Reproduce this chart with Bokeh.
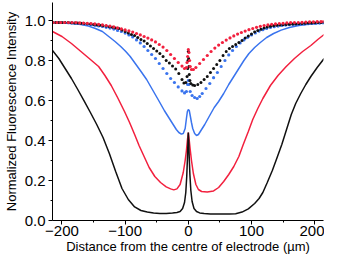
from bokeh.plotting import figure
from bokeh.models import Range1d, FixedTicker, NumeralTickFormatter
from bokeh.embed import file_html
from bokeh.resources import INLINE

# ---- axis ticks ----
x_major = [-200, -100, 0, 100, 200]
x_minor = [-150, -50, 50, 150]
y_major = [0.0, 0.2, 0.4, 0.6, 0.8, 1.0]
y_minor = [0.1, 0.3, 0.5, 0.7, 0.9]

# ---- solid black ----
black_x = [-215, -205, -195, -185, -175, -165, -155, -145, -135, -125, -115, -105, -95, -85, -75, -65, -55, -45, -35, -25, -18, -13, -9, -6, -4, -2.5, -1.5, -0.7, 0, 0.7, 1.5, 2.5, 4, 6, 9, 13, 18, 25, 35, 45, 55, 65, 75, 85, 95, 105, 112, 118, 125, 133, 140, 148, 155, 163, 170, 178, 186, 194, 204, 215]
black_y = [0.85, 0.81, 0.76, 0.71, 0.655, 0.598, 0.54, 0.48, 0.415, 0.335, 0.245, 0.16, 0.105, 0.068, 0.05, 0.042, 0.037, 0.035, 0.035, 0.037, 0.04, 0.045, 0.06, 0.09, 0.14, 0.22, 0.30, 0.38, 0.44, 0.39, 0.31, 0.23, 0.15, 0.095, 0.06, 0.045, 0.038, 0.035, 0.033, 0.032, 0.032, 0.032, 0.034, 0.042, 0.058, 0.085, 0.11, 0.14, 0.19, 0.25, 0.31, 0.38, 0.45, 0.53, 0.585, 0.635, 0.68, 0.72, 0.765, 0.81]

# ---- solid red ----
red_x = [-215, -200, -185, -170, -155, -142, -132, -122, -112, -101, -93, -85, -78, -70, -62, -53, -44, -35, -28, -23, -18, -13, -8, -5, -3, -1.5, 0, 1.5, 3, 5, 8, 12, 16, 21, 30, 40, 48, 56, 64, 72, 80, 87, 95, 102, 110, 118, 130, 142, 155, 168, 181, 194, 205, 215]
red_y = [0.945, 0.92, 0.885, 0.845, 0.805, 0.77, 0.725, 0.675, 0.615, 0.545, 0.49, 0.43, 0.375, 0.32, 0.265, 0.22, 0.19, 0.168, 0.158, 0.153, 0.158, 0.18, 0.24, 0.30, 0.35, 0.40, 0.44, 0.40, 0.355, 0.30, 0.235, 0.18, 0.155, 0.145, 0.143, 0.148, 0.165, 0.195, 0.23, 0.27, 0.32, 0.38, 0.445, 0.505, 0.56, 0.61, 0.675, 0.725, 0.77, 0.81, 0.845, 0.875, 0.905, 0.93]

# ---- solid blue ----
blue_x = [-215, -200, -185, -170, -158, -147, -136, -126, -116, -107, -99, -92, -84, -76, -66, -56, -46, -38, -30, -24, -19, -15, -11, -8, -5, -3, -1.5, 0, 1.5, 3, 5, 7, 10, 13, 16, 20, 26, 33, 41, 48, 56, 64, 72, 80, 88, 96, 105, 114, 124, 135, 147, 160, 175, 190, 205, 215]
blue_y = [0.99, 0.988, 0.985, 0.98, 0.972, 0.96, 0.945, 0.92, 0.895, 0.87, 0.845, 0.82, 0.785, 0.75, 0.705, 0.65, 0.595, 0.55, 0.51, 0.48, 0.455, 0.44, 0.432, 0.435, 0.46, 0.51, 0.545, 0.555, 0.55, 0.525, 0.49, 0.46, 0.435, 0.425, 0.43, 0.45, 0.48, 0.52, 0.565, 0.595, 0.635, 0.68, 0.72, 0.76, 0.80, 0.835, 0.865, 0.89, 0.915, 0.935, 0.952, 0.965, 0.975, 0.981, 0.985, 0.987]

# ---- dotted red ----
red_dot_x = [-214, -208, -202, -196, -190, -184, -178, -172, -166, -160, -154, -148, -142, -136, -130, -124, -118, -112, -106, -100, -94, -88, -82, -76, -70, -64, -58, -52, -46, -40, -34, -28, -22, -16, -10, -6, -3, -2, -1, 0, 1, 2, 3, 5, 8, 12, 18, 24, 30, 36, 42, 48, 54, 60, 66, 72, 78, 84, 90, 96, 102, 108, 114, 120, 126, 132, 138, 144, 150, 156, 162, 168, 174, 180, 186, 192, 198, 204, 210, 214]
red_dot_y = [0.99, 0.99, 0.99, 0.99, 0.99, 0.99, 0.99, 0.988, 0.987, 0.986, 0.985, 0.983, 0.981, 0.978, 0.975, 0.972, 0.968, 0.963, 0.958, 0.953, 0.948, 0.942, 0.935, 0.928, 0.92, 0.912, 0.903, 0.893, 0.88, 0.867, 0.85, 0.83, 0.81, 0.79, 0.772, 0.76, 0.765, 0.79, 0.82, 0.855, 0.84, 0.80, 0.77, 0.755, 0.755, 0.765, 0.785, 0.805, 0.825, 0.845, 0.862, 0.877, 0.89, 0.902, 0.913, 0.923, 0.932, 0.94, 0.947, 0.954, 0.96, 0.966, 0.971, 0.975, 0.978, 0.981, 0.983, 0.985, 0.986, 0.988, 0.989, 0.99, 0.99, 0.991, 0.992, 0.993, 0.993, 0.994, 0.994, 0.995]

# ---- dotted black ----
black_dot_x = [-215, -210, -205, -200, -195, -190, -185, -180, -175, -170, -165, -160, -155, -150, -145, -140, -135, -130, -125, -120, -115, -110, -105, -100, -95, -90, -85, -80, -75, -70, -65, -60, -55, -50, -45, -40, -35, -30, -25, -20, -15, -10, -7, -4, -2, -1, -0.5, 0, 0.5, 1, 1.5, 2.5, 4, 7, 10, 15, 20, 25, 30, 35, 40, 45, 50, 55, 60, 65, 70, 75, 80, 85, 90, 95, 100, 105, 110, 115, 120, 125, 130, 135, 140, 145, 150, 155, 160, 165, 170, 175, 180, 185, 190, 195, 200, 205, 210, 215]
black_dot_y = [0.99, 0.99, 0.99, 0.99, 0.99, 0.99, 0.989, 0.988, 0.987, 0.986, 0.985, 0.984, 0.982, 0.98, 0.978, 0.976, 0.974, 0.972, 0.969, 0.966, 0.963, 0.96, 0.953, 0.945, 0.938, 0.93, 0.925, 0.915, 0.905, 0.897, 0.885, 0.873, 0.86, 0.848, 0.835, 0.82, 0.80, 0.787, 0.772, 0.757, 0.735, 0.705, 0.688, 0.69, 0.72, 0.76, 0.80, 0.845, 0.81, 0.77, 0.73, 0.70, 0.685, 0.677, 0.675, 0.68, 0.69, 0.705, 0.72, 0.74, 0.76, 0.78, 0.80, 0.825, 0.845, 0.86, 0.87, 0.88, 0.89, 0.90, 0.912, 0.922, 0.932, 0.942, 0.95, 0.956, 0.962, 0.968, 0.971, 0.974, 0.976, 0.978, 0.979, 0.98, 0.981, 0.982, 0.983, 0.984, 0.985, 0.986, 0.987, 0.988, 0.989, 0.99, 0.99, 0.99]

# ---- dotted blue ----
blue_dot_x = [-214, -208, -202, -196, -190, -184, -178, -172, -166, -160, -154, -148, -142, -136, -130, -124, -118, -112, -106, -100, -94, -88, -82, -76, -70, -64, -58, -52, -46, -40, -34, -28, -22, -16, -10, -6, -3, -1, 0, 1, 3, 6, 10, 14, 18, 22, 28, 34, 40, 46, 52, 58, 64, 70, 76, 82, 88, 94, 100, 106, 112, 118, 124, 130, 136, 142, 148, 154, 160, 166, 172, 178, 184, 190, 196, 202, 208, 214]
blue_dot_y = [0.99, 0.99, 0.99, 0.99, 0.989, 0.988, 0.987, 0.985, 0.983, 0.981, 0.979, 0.976, 0.973, 0.97, 0.966, 0.962, 0.957, 0.95, 0.945, 0.937, 0.928, 0.918, 0.903, 0.888, 0.87, 0.85, 0.83, 0.81, 0.785, 0.76, 0.735, 0.71, 0.69, 0.668, 0.648, 0.638, 0.645, 0.68, 0.70, 0.68, 0.645, 0.625, 0.615, 0.61, 0.62, 0.635, 0.66, 0.685, 0.714, 0.74, 0.77, 0.80, 0.828, 0.85, 0.87, 0.888, 0.903, 0.916, 0.928, 0.938, 0.947, 0.954, 0.96, 0.965, 0.969, 0.972, 0.975, 0.977, 0.979, 0.98, 0.981, 0.982, 0.983, 0.984, 0.985, 0.986, 0.987, 0.988]

RED = "#F2203E"
BLUE = "#3A74EE"
BLACK = "#111111"

p = figure(width=324, height=256, output_backend="svg", toolbar_location=None,
           x_range=Range1d(-215, 214), y_range=Range1d(0, 1.09),
           min_border_left=52, min_border_right=1, min_border_top=2, min_border_bottom=36)
p.outline_line_color = None
p.grid.visible = False
p.background_fill_color = "white"
p.border_fill_color = "white"

p.line(red_x, red_y, line_color=RED, line_width=1.5)
p.line(blue_x, blue_y, line_color=BLUE, line_width=1.5)
p.line(black_x, black_y, line_color=BLACK, line_width=1.5)
p.scatter(blue_dot_x, blue_dot_y, size=3.2, marker="circle", fill_color=BLUE, line_color=None)
p.scatter(black_dot_x, black_dot_y, size=3.0, marker="circle", fill_color=BLACK, line_color=None)
p.scatter(red_dot_x, red_dot_y, size=3.2, marker="circle", fill_color=RED, line_color=None)

for ax in (p.xaxis[0], p.yaxis[0]):
    ax.axis_line_color = "black"
    ax.axis_line_width = 1
    ax.major_tick_line_color = "black"
    ax.minor_tick_line_color = "black"
    ax.major_tick_in = 0
    ax.major_tick_out = 4
    ax.minor_tick_in = 0
    ax.minor_tick_out = 2
    ax.major_label_text_font = "Liberation Sans"
    ax.major_label_text_font_size = "15px"
    ax.major_label_text_color = "black"
    ax.axis_label_text_font = "Liberation Sans"
    ax.axis_label_text_font_size = "13px"
    ax.axis_label_text_font_style = "normal"
    ax.axis_label_text_color = "black"

p.xaxis.major_label_standoff = 1
p.xaxis.axis_label_standoff = 0
p.yaxis.major_label_standoff = 3
p.yaxis.axis_label_standoff = 3

p.xaxis.ticker = FixedTicker(ticks=x_major, minor_ticks=x_minor)
p.yaxis.ticker = FixedTicker(ticks=y_major, minor_ticks=y_minor)
p.yaxis.formatter = NumeralTickFormatter(format="0.0")
p.xaxis.axis_label = "Distance from the centre of electrode (µm)"
p.yaxis.axis_label = "Normalized Fluorescence Intensity"

open("out.html", "w").write(file_html(p, INLINE))
